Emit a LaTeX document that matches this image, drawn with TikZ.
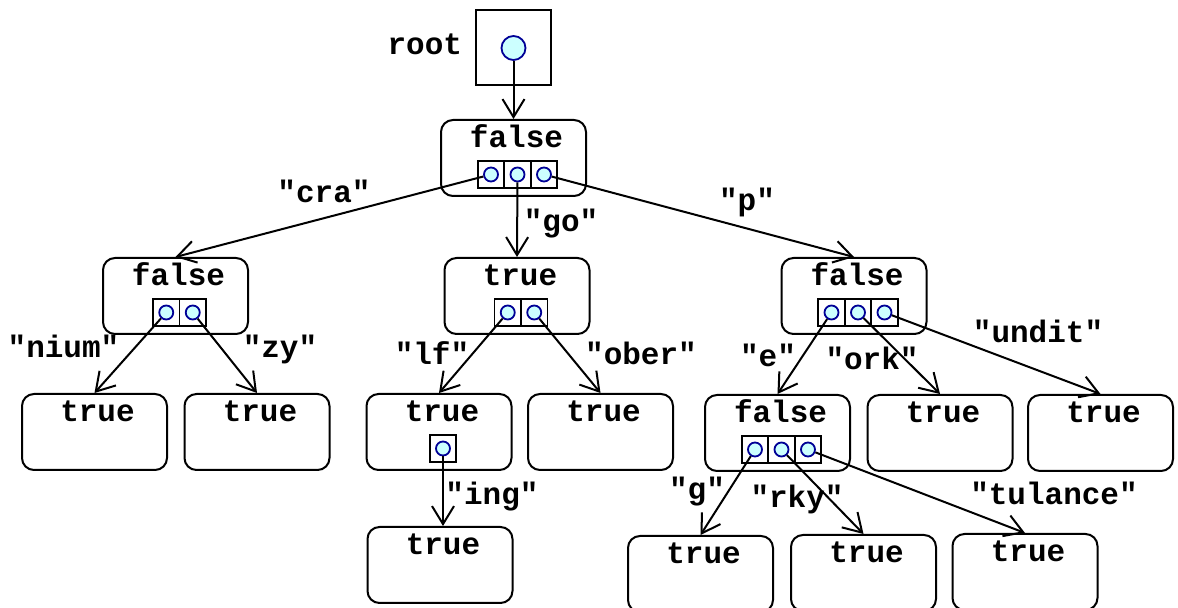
\documentclass[tikz,border=0pt]{standalone}
\usepackage{fontspec}
\newfontfamily\codefont{Liberation Mono}
\usetikzlibrary{arrows.meta,calc}
\definecolor{ptrfill}{RGB}{204,255,255}
\definecolor{ptrline}{RGB}{0,0,150}

% one trie node: name, centre x, top y, value
\newcommand\trienode[4]{%
  \node [tbox] (#1) at (#2,#3+38) {};
  \node [val] (#1v) at ($(#1.north)+(3,29)$) {#4};
}
% row of child pointers under a node: name, count
\newcommand\slots[2]{%
  \foreach \k in {1,...,#2}{
    \node [slot] (#1s\k) at ($(#1.north)+(4+26.5*\k-13.25*#2-13.25,55.5)$) {};
    \node [ptr] (#1p\k) at (#1s\k) {};
  }
}

\begin{document}
\begin{tikzpicture}[x=0.5pt, y=-0.5pt, line width=1pt,
    tbox/.style={draw, rounded corners=6pt, minimum width=72.5pt, minimum height=38pt, inner sep=0pt},
    val/.style={anchor=base, inner sep=0pt, font=\codefont\bfseries\fontsize{15.5pt}{18pt}\selectfont},
    slot/.style={draw, line width=0.8pt, minimum size=13.25pt, inner sep=0pt},
    ptr/.style={circle, draw=ptrline, fill=ptrfill, line width=0.9pt, minimum size=7pt, inner sep=0pt},
    link/.style={-{Straight Barb[length=9pt,width=11pt]}},
    strlbl/.style={val}]
    \useasboundingbox (0,0) rectangle (1178,608);

    % root pointer
    \node [draw, minimum size=37.5pt, inner sep=0pt] (root) at (513.5,48) {};
    \node [ptr, minimum size=12pt] (rootp) at (root) {};
    \node [val, anchor=base east] (rootlbl) at ($(root.west)+(-12,7)$) {root};

    % nodes
    \trienode{n0}{513.5}{120}{false}  \slots{n0}{3}
    \trienode{n1}{175.5}{258}{false}  \slots{n1}{2}
    \trienode{n2}{517}{258}{true}     \slots{n2}{2}
    \trienode{n3}{854}{258}{false}    \slots{n3}{3}
    \trienode{n4}{94.5}{394}{true}
    \trienode{n5}{257}{394}{true}
    \trienode{n6}{439}{394}{true}     \slots{n6}{1}
    \trienode{n7}{600.5}{394}{true}
    \trienode{n8}{777.5}{395}{false}  \slots{n8}{3}
    \trienode{n9}{940}{395}{true}
    \trienode{n10}{1100.5}{395}{true}
    \trienode{n11}{440}{527}{true}
    \trienode{n12}{700.5}{536}{true}
    \trienode{n13}{863.5}{535}{true}
    \trienode{n14}{1025}{534}{true}

    % links
    \draw [link] (rootp) -- (n0.north);
    \draw [link] (n0p1) -- (n1.north);
    \draw [link] (n0p2) -- (n2.north);
    \draw [link] (n0p3) -- (n3.north);
    \draw [link] (n1p1) -- (n4.north);
    \draw [link] (n1p2) -- (n5.north);
    \draw [link] (n2p1) -- (n6.north);
    \draw [link] (n2p2) -- (n7.north);
    \draw [link] (n3p1) -- (n8.north);
    \draw [link] (n3p2) -- (n9.north);
    \draw [link] (n3p3) -- (n10.north);
    \draw [link] (n6p1) -- (n6p1 |- n11.north);
    \draw [link] (n8p1) -- (n12.north);
    \draw [link] (n8p2) -- (n13.north);
    \draw [link] (n8p3) -- (n14.north);

    % string keys
    \node [strlbl] (kcra) at (324,203) {"cra"};
    \node [strlbl] (kgo) at (561,232) {"go"};
    \node [strlbl] (kp) at (747,211) {"p"};
    \node [strlbl] (knium) at (63.5,358) {"nium"};
    \node [strlbl] (kzy) at (280,358) {"zy"};
    \node [strlbl] (klf) at (432,365) {"lf"};
    \node [strlbl] (kober) at (641,365) {"ober"};
    \node [strlbl] (ke) at (768,367) {"e"};
    \node [strlbl] (kork) at (872,370) {"ork"};
    \node [strlbl] (kundit) at (1038,343) {"undit"};
    \node [strlbl] (king) at (492,505) {"ing"};
    \node [strlbl] (kg) at (697,500) {"g"};
    \node [strlbl] (krky) at (797,508) {"rky"};
    \node [strlbl] (ktulance) at (1054,505) {"tulance"};
\end{tikzpicture}
\end{document}
